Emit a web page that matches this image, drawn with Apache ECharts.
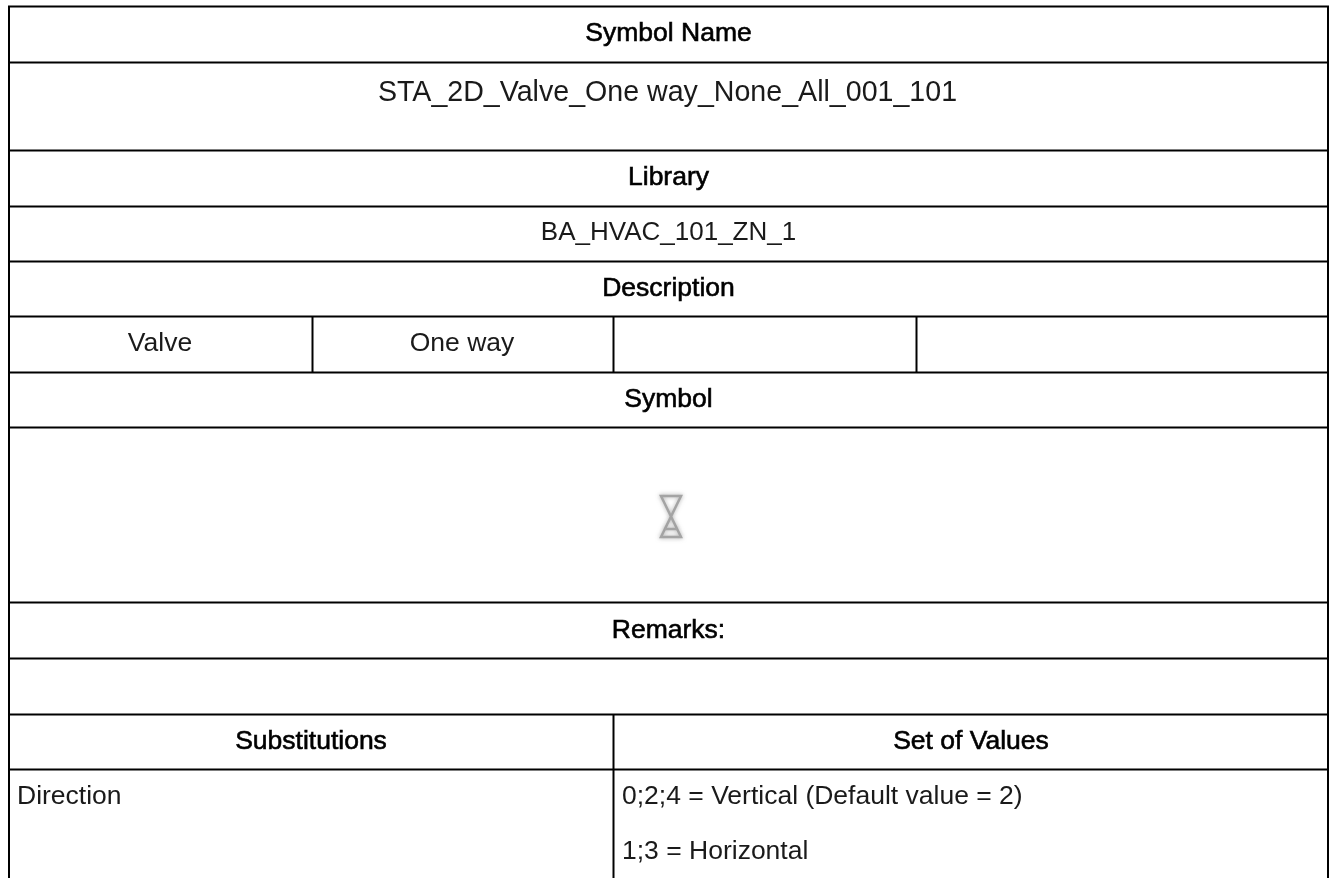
<!DOCTYPE html>
<html>
<head>
<meta charset="utf-8">
<style>html,body{margin:0;padding:0;background:#fff}#c{width:1333px;height:878px}</style>
<script src="https://cdn.jsdelivr.net/npm/echarts@6/dist/echarts.min.js"></script>
</head>
<body>
<div id="c"></div>
<script>
// Table contents
const headerRows = ["Symbol Name", "Library", "Description", "Symbol", "Remarks:"];
const symbolName = "STA_2D_Valve_One way_None_All_001_101";
const libraryName = "BA_HVAC_101_ZN_1";
const descriptionCells = ["Valve", "One way", "", ""];
const substitutionHeaders = ["Substitutions", "Set of Values"];
const substitutionName = "Direction";
const substitutionValues = ["0;2;4 = Vertical (Default value = 2)", "1;3 = Horizontal"];

// Layout, kept apart from the contents
const L = 9, R = 1328, MID = 613.5, BOTTOM = 878;
const hLines = [6.5, 62.5, 150.5, 206.5, 261.5, 316.5, 372.5, 427.5, 602.5, 658.5, 714.5, 769.5];
const descCols = [312.5, 613.5, 916.5];
const FONT = '"Liberation Sans", Arial, sans-serif';
const SIZE = 26.5;

const els = [];
const line = (x1, y1, x2, y2) => els.push({type:'line', silent:true,
  shape:{x1,y1,x2,y2}, style:{stroke:'#000', lineWidth:2}});
const text = (t, x, y, bold, align, size) => els.push({type:'text', silent:true, x, y,
  style:{text:t, x:0, y:0, font:`${size||SIZE}px ${FONT}`, fill:bold?'#000':'#1a1a1a',
    stroke:bold?'#000':null, lineWidth:bold?0.6:0,
    align:align||'center', verticalAlign:'middle'}});

hLines.forEach(y => line(L-1, y, R+1, y));
line(L, 6, L, BOTTOM);
line(R, 6, R, BOTTOM);
descCols.forEach(x => line(x, 316.5, x, 372.5));
line(MID, 714.5, MID, BOTTOM);

const cx = (L + R) / 2;
text(headerRows[0], cx, 34, true);
text(symbolName, cx - 1, 93, false, 'center', 28.6);
text(headerRows[1], cx, 178, true);
text(libraryName, cx, 233, false, 'center', 26);
text(headerRows[2], cx, 289, true);
const descX = [160, 462, 765, 1122];
descriptionCells.forEach((t, i) => { if (t) text(t, descX[i], 344); });
text(headerRows[3], cx, 400, true);
text(headerRows[4], cx, 631, true);
text(substitutionHeaders[0], 311, 742, true);
text(substitutionHeaders[1], 971, 742, true);
text(substitutionName, 17, 797, false, 'left');
text(substitutionValues[0], 622, 797, false, 'left');
text(substitutionValues[1], 622, 852, false, 'left');

// Valve glyph (soft grey hourglass)
const glyph = {stroke:'#a4a4a4', fill:null, lineWidth:2.5, shadowBlur:4, shadowColor:'rgba(150,150,150,.8)'};
els.push({type:'polygon', silent:true, shape:{points:[[661,496],[681,496],[661,537],[681,537]]}, style:glyph});
els.push({type:'line', silent:true, shape:{x1:665,y1:529,x2:677,y2:529}, style:glyph});

const chart = echarts.init(document.getElementById('c'), null, {renderer:'canvas', width:1333, height:878});
chart.setOption({animation:false, backgroundColor:'#fff', graphic:{elements:els}});
</script>
</body>
</html>
